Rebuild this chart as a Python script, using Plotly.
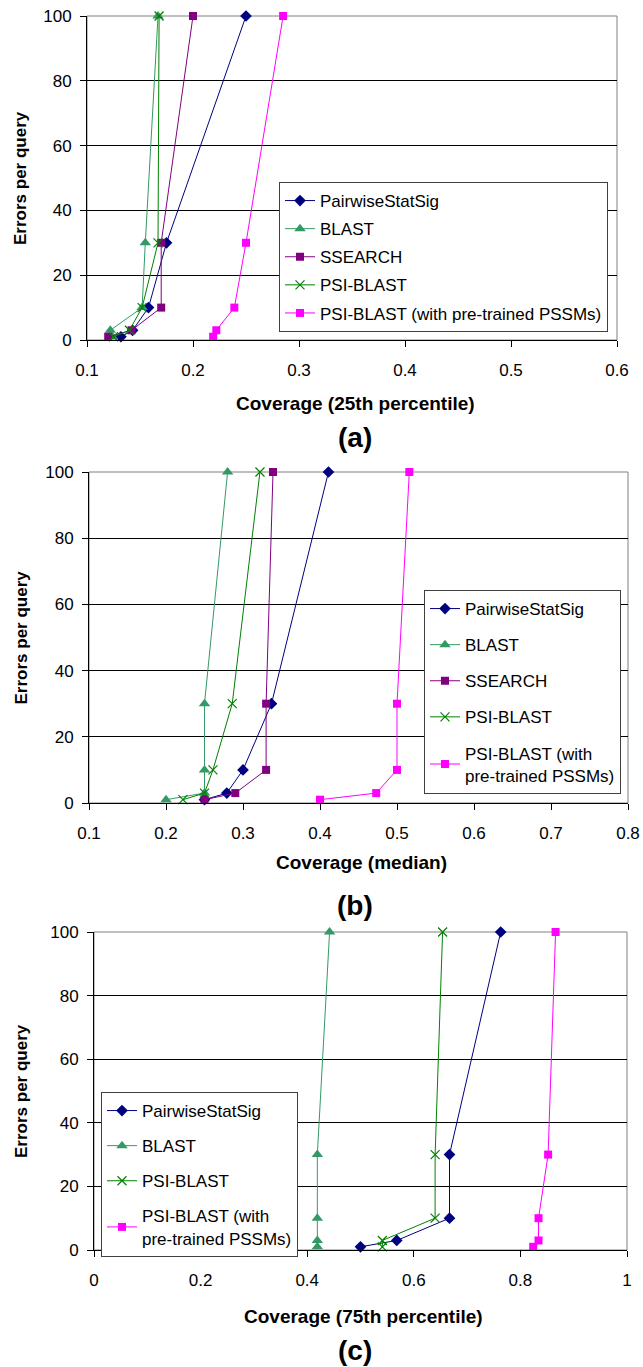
import plotly.graph_objects as go

W, H = 643, 1367

errors = [1, 3, 10, 30, 100]

# Panel (a) coverage, 25th percentile
a_pairwise = [0.132, 0.143, 0.158, 0.175, 0.250]
a_blast = [0.124, 0.122, 0.152, 0.155, 0.167]
a_ssearch = [0.120, 0.142, 0.170, 0.170, 0.200]
a_psiblast = [0.125, 0.140, 0.152, 0.167, 0.168]
a_pretrained = [0.219, 0.222, 0.239, 0.250, 0.285]

# Panel (b) coverage, median
b_pairwise = [0.250, 0.279, 0.300, 0.337, 0.411]
b_blast = [0.200, 0.250, 0.250, 0.250, 0.280]
b_ssearch = [0.250, 0.290, 0.330, 0.330, 0.339]
b_psiblast = [0.222, 0.250, 0.261, 0.286, 0.322]
b_pretrained = [0.400, 0.473, 0.500, 0.500, 0.516]

# Panel (c) coverage, 75th percentile
c_pairwise = [0.500, 0.568, 0.667, 0.667, 0.763]
c_blast = [0.419, 0.419, 0.419, 0.419, 0.442]
c_psiblast = [0.541, 0.541, 0.640, 0.640, 0.654]
c_pretrained = [0.824, 0.834, 0.834, 0.852, 0.866]

FONT = "Liberation Sans, Arial, sans-serif"

styles = {
    "PairwiseStatSig": dict(color="#000080", symbol="diamond", size=9),
    "BLAST": dict(color="#339966", symbol="triangle-up", size=10),
    "SSEARCH": dict(color="#800080", symbol="square", size=8),
    "PSI-BLAST": dict(color="#008000", symbol="x-thin", size=9),
    "PRE": dict(color="#FF00FF", symbol="square", size=8),
}

panels = [
    dict(key="a", xa="x", ya="y", leg="legend",
         series=[("PairwiseStatSig", "PairwiseStatSig", a_pairwise),
                 ("BLAST", "BLAST", a_blast),
                 ("SSEARCH", "SSEARCH", a_ssearch),
                 ("PSI-BLAST", "PSI-BLAST", a_psiblast),
                 ("PRE", "PSI-BLAST (with pre-trained PSSMs)", a_pretrained)]),
    dict(key="b", xa="x2", ya="y2", leg="legend2",
         series=[("PairwiseStatSig", "PairwiseStatSig", b_pairwise),
                 ("BLAST", "BLAST", b_blast),
                 ("SSEARCH", "SSEARCH", b_ssearch),
                 ("PSI-BLAST", "PSI-BLAST", b_psiblast),
                 ("PRE", "PSI-BLAST (with<br>pre-trained PSSMs)", b_pretrained)]),
    dict(key="c", xa="x3", ya="y3", leg="legend3",
         series=[("PairwiseStatSig", "PairwiseStatSig", c_pairwise),
                 ("BLAST", "BLAST", c_blast),
                 ("PSI-BLAST", "PSI-BLAST", c_psiblast),
                 ("PRE", "PSI-BLAST (with<br>pre-trained PSSMs)", c_pretrained)]),
]

fig = go.Figure()
for p in panels:
    for i, (sk, name, xs) in enumerate(p["series"]):
        st = styles[sk]
        if st["symbol"] == "x-thin":
            marker = dict(symbol="x-thin", size=st["size"],
                          line=dict(color=st["color"], width=1.2), color=st["color"])
        else:
            marker = dict(symbol=st["symbol"], size=st["size"], color=st["color"],
                          line=dict(width=0))
        fig.add_trace(go.Scatter(
            x=xs, y=errors, name=name, mode="lines+markers",
            line=dict(color=st["color"], width=1), marker=marker,
            xaxis=p["xa"], yaxis=p["ya"], legend=p["leg"],
            legendgroup=p["key"] + str(i), cliponaxis=False,
        ))

def px_x(v):
    return v / W

def px_y(v):
    return 1 - v / H

# plot area pixel boxes: (left, right, top, bottom)
boxes = {
    "a": (87, 617, 16, 340),
    "b": (89, 628, 472, 803),
    "c": (94, 627, 932, 1250),
}
xranges = {"a": [0.1, 0.6], "b": [0.1, 0.8], "c": [0, 1]}
xdticks = {"a": 0.1, "b": 0.1, "c": 0.2}
xtitles = {"a": "Coverage (25th percentile)", "b": "Coverage (median)",
           "c": "Coverage (75th percentile)"}
xtitle_y = {"a": 403, "b": 862, "c": 1316}
label_y = {"a": 437, "b": 905, "c": 1350}
axis_suffix = {"a": "", "b": "2", "c": "3"}

layout = dict(
    width=W, height=H, margin=dict(l=0, r=0, t=0, b=0, autoexpand=False),
    paper_bgcolor="white", plot_bgcolor="white",
    font=dict(family=FONT, size=16, color="black"),
    showlegend=True,
)
annotations = []
shapes = []
for k, (l, r, t, b) in boxes.items():
    s = axis_suffix[k]
    layout["xaxis" + s] = dict(
        domain=[px_x(l), px_x(r)], range=xranges[k], dtick=xdticks[k], tick0=0,
        anchor="y" + s, showgrid=False, zeroline=False, automargin=False,
        showline=True, linecolor="black", linewidth=1,
        ticks="outside", ticklen=6, tickcolor="black", tickwidth=1,
        tickfont=dict(size=17, family=FONT), ticklabelstandoff=9,
        tickformat=".1~f" if k != "c" else "~g",
    )
    layout["yaxis" + s] = dict(
        domain=[px_y(b), px_y(t)], range=[0, 100], dtick=20,
        anchor="x" + s, showgrid=True, gridcolor="black", gridwidth=1,
        zeroline=False, showline=True, linecolor="black", linewidth=1,
        automargin=False,
        ticks="outside", ticklen=6, tickcolor="black", tickwidth=1,
        tickfont=dict(size=17, family=FONT), ticklabelstandoff=5,
    )
    shapes.append(dict(type="rect", xref="x" + s + " domain", yref="y" + s + " domain",
                       x0=0, x1=1, y0=0, y1=1, line=dict(color="#808080", width=1),
                       layer="below"))
    cx = (l + r) / 2
    annotations.append(dict(text="<b>" + xtitles[k] + "</b>", x=px_x(cx + 3), y=px_y(xtitle_y[k]),
                            xref="paper", yref="paper", showarrow=False,
                            xanchor="center", yanchor="middle",
                            font=dict(size=19, family=FONT)))
    annotations.append(dict(text="<b>(" + k + ")</b>", x=px_x(355), y=px_y(label_y[k]),
                            xref="paper", yref="paper", showarrow=False,
                            xanchor="center", yanchor="middle",
                            font=dict(size=28, family=FONT)))
    annotations.append(dict(text="<b>Errors per query</b>", x=px_x(21), y=px_y((t + b) / 2),
                            xref="paper", yref="paper", showarrow=False, textangle=-90,
                            xanchor="center", yanchor="middle",
                            font=dict(size=17, family=FONT)))

legend_common = dict(
    bgcolor="white", bordercolor="#404040", borderwidth=1,
    font=dict(size=17, family=FONT), itemwidth=30,
    traceorder="grouped", xanchor="left", yanchor="top",
)
layout["legend"] = dict(legend_common, x=px_x(279), y=px_y(182), tracegroupgap=3)
layout["legend2"] = dict(legend_common, x=px_x(424), y=px_y(590), tracegroupgap=11)
layout["legend3"] = dict(legend_common, x=px_x(101), y=px_y(1092), tracegroupgap=10)
layout["annotations"] = annotations
layout["shapes"] = shapes

fig.update_layout(**layout)
fig.write_html("out.html")
